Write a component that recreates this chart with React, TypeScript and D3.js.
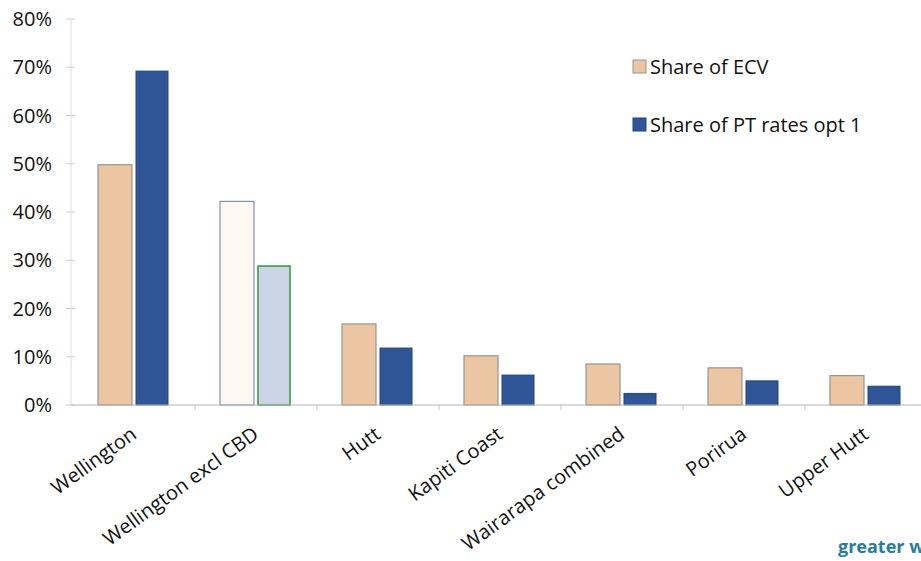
import React from "react";
import * as d3 from "d3";

// Share of equalised capital value vs share of public transport rates, by district
const categories = [
  "Wellington",
  "Wellington excl CBD",
  "Hutt",
  "Kapiti Coast",
  "Wairarapa combined",
  "Porirua",
  "Upper Hutt",
];
const shareECV = [0.498, 0.422, 0.168, 0.102, 0.085, 0.077, 0.061];
const sharePT = [0.692, 0.288, 0.118, 0.062, 0.024, 0.05, 0.039];
const yTicks = [0, 0.1, 0.2, 0.3, 0.4, 0.5, 0.6, 0.7, 0.8];
const seriesNames = ["Share of ECV", "Share of PT rates opt 1"];

const W = 921;
const H = 561;
const FONT = "'Open Sans', 'DejaVu Sans', sans-serif";

export default function App() {
  const x = d3.scaleBand<string>().domain(categories).range([73, 73 + 122 * categories.length]);
  const y = d3.scaleLinear().domain([0, 0.8]).range([405, 19]);
  const barW = 34;
  const gap = 4;
  const fmt = d3.format(".0%");
  const base = y(0);

  // the "excl CBD" pair is drawn with a washed-out style
  const ecvStyle = (i: number) =>
    i === 1
      ? { fill: "#fdf8f1", stroke: "#8291b8" }
      : { fill: "#ecc5a2", stroke: "#9a9590" };
  const ptStyle = (i: number) =>
    i === 1
      ? { fill: "#cbd5e5", stroke: "#3c9a45" }
      : { fill: "#2f5597", stroke: "#24467f" };

  return (
    <svg
      width={W}
      height={H}
      style={{ position: "absolute", left: 0, top: 0, background: "#fff" }}
    >
      {/* y axis */}
      <line x1={71} x2={71} y1={19} y2={base} stroke="#dcdcdc" strokeWidth={1} />
      {yTicks.map((t) => (
        <g key={t}>
          <line x1={66} x2={75} y1={y(t)} y2={y(t)} stroke="#d0d0d0" />
          <text
            x={52}
            y={y(t)}
            dy="0.36em"
            textAnchor="end"
            fontFamily={FONT}
            fontSize={20}
            fill="#111"
          >
            {fmt(t)}
          </text>
        </g>
      ))}

      {/* bars */}
      {categories.map((c, i) => {
        const cx = (x(c) as number) + x.bandwidth() / 2;
        const e = ecvStyle(i);
        const p = ptStyle(i);
        return (
          <g key={c}>
            <rect
              x={cx - gap / 2 - barW}
              y={y(shareECV[i])}
              width={barW}
              height={base - y(shareECV[i])}
              fill={e.fill}
              stroke={e.stroke}
              strokeWidth={1.2}
            />
            <rect
              x={cx + gap / 2}
              y={y(sharePT[i])}
              width={barW - 2}
              height={base - y(sharePT[i])}
              fill={p.fill}
              stroke={p.stroke}
              strokeWidth={i === 1 ? 1.6 : 1}
            />
          </g>
        );
      })}

      {/* x axis */}
      <line x1={71} x2={W} y1={base} y2={base} stroke="#b5b5b5" strokeWidth={1.2} />
      {categories.map((c) => (
        <line
          key={"t" + c}
          x1={(x(c) as number) + x.bandwidth()}
          x2={(x(c) as number) + x.bandwidth()}
          y1={base}
          y2={base + 5}
          stroke="#c4c4c4"
        />
      ))}

      {/* category labels */}
      {categories.map((c) => {
        const cx = (x(c) as number) + x.bandwidth() / 2;
        return (
          <text
            key={"l" + c}
            transform={`translate(${cx + 4},${base + 32}) rotate(-36)`}
            textAnchor="end"
            fontFamily={FONT}
            fontSize={20}
            fill="#111"
          >
            {c}
          </text>
        );
      })}

      {/* legend */}
      <rect x={633} y={60} width={13} height={13} fill="#ecc5a2" stroke="#9a9590" />
      <text x={650} y={74} fontFamily={FONT} fontSize={20} fill="#111">
        {seriesNames[0]}
      </text>
      <rect x={633} y={118} width={13} height={13} fill="#2f5597" stroke="#24467f" />
      <text x={650} y={132} fontFamily={FONT} fontSize={20} fill="#111">
        {seriesNames[1]}
      </text>

      {/* footer logo text, running off the right edge */}
      <text
        x={838}
        y={553}
        fontFamily={FONT}
        fontSize={18}
        fontWeight={700}
        fill="#2b7c9c"
      >
        greater wellington
      </text>
    </svg>
  );
}
